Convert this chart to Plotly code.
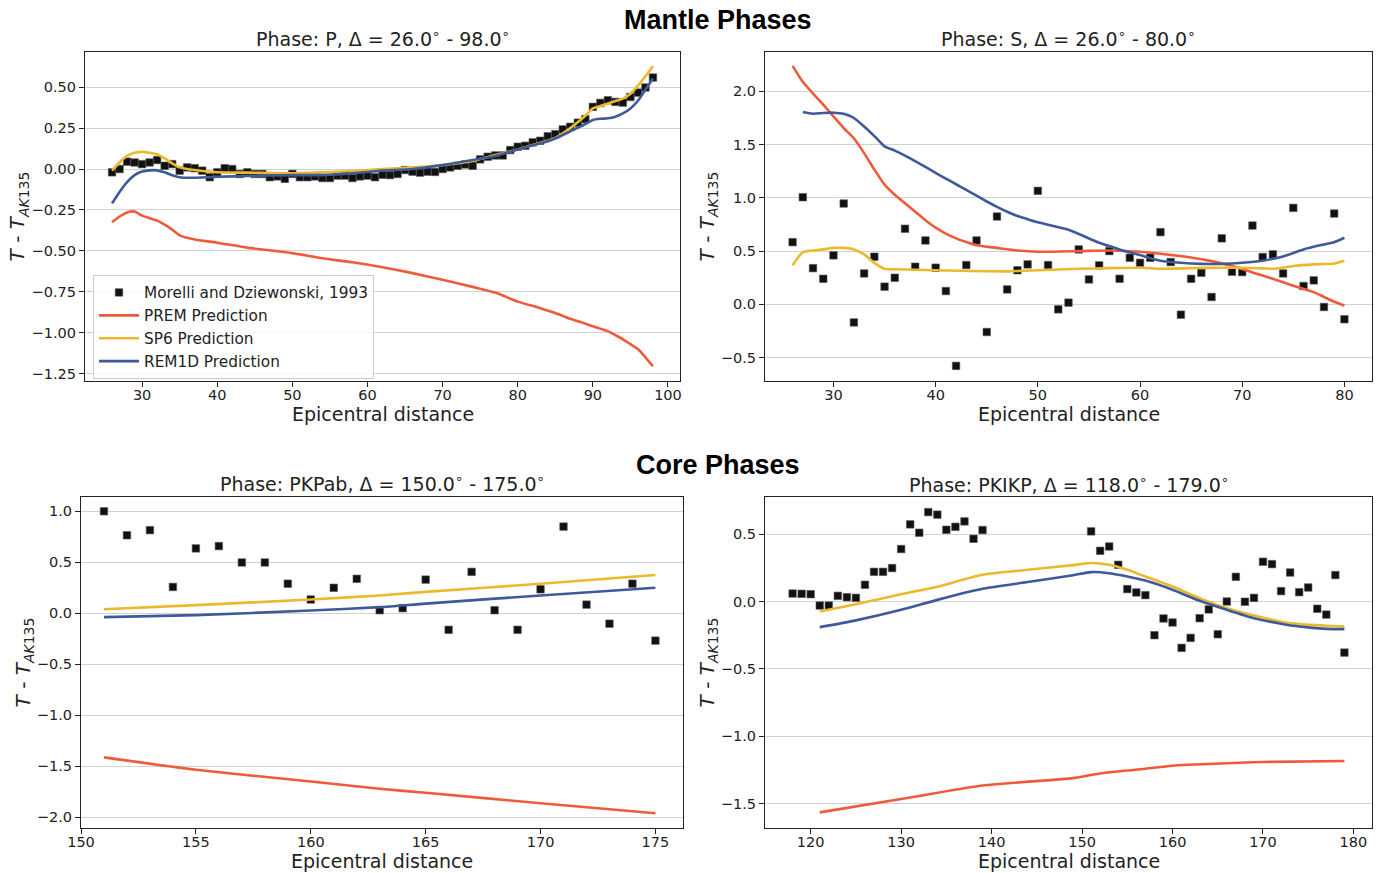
import plotly.graph_objects as go

# ---------------- data ----------------
# P phase
P_dist = list(range(26, 99))
P_obs = [-0.02, 0.00, 0.045, 0.04, 0.03, 0.04, 0.055, 0.02, 0.03, -0.01,
         0.01, 0.005, -0.01, -0.05, -0.02, 0.005, 0.0, -0.03, -0.02, -0.03,
         -0.03, -0.05, -0.045, -0.06, -0.03, -0.05, -0.05, -0.045, -0.055, -0.055,
         -0.04, -0.04, -0.055, -0.045, -0.04, -0.05, -0.035, -0.037, -0.03, -0.006,
         -0.016, -0.022, -0.016, -0.018, 0.0, 0.01, 0.02, 0.028, 0.02, 0.059,
         0.075, 0.083, 0.083, 0.116, 0.136, 0.142, 0.163, 0.173, 0.20, 0.213,
         0.242, 0.258, 0.283, 0.305, 0.38, 0.404, 0.42, 0.41, 0.406, 0.44,
         0.467, 0.498, 0.559]
P_model_x = [26, 27, 28, 29, 30, 31, 32, 33, 34, 35, 36, 37, 40, 44, 50, 54, 58, 62,
             66, 70, 74, 77, 80, 83, 85, 87, 89, 90, 91, 92, 93, 94, 95, 96, 97, 98]
P_prem = [-0.325, -0.29, -0.265, -0.26, -0.285, -0.30, -0.315, -0.34, -0.37, -0.405,
          -0.42, -0.43, -0.45, -0.48, -0.514, -0.545, -0.57, -0.60, -0.636, -0.677,
          -0.72, -0.755, -0.81, -0.85, -0.88, -0.915, -0.945, -0.96, -0.975, -0.99,
          -1.015, -1.04, -1.07, -1.10, -1.15, -1.205]
P_sp6 = [-0.01, 0.04, 0.08, 0.10, 0.105, 0.10, 0.09, 0.065, 0.035, 0.01,
         0.0, -0.006, -0.02, -0.022, -0.026, -0.02, -0.012, 0.0, 0.01, 0.024,
         0.049, 0.085, 0.12, 0.16, 0.19, 0.25, 0.325, 0.37, 0.385, 0.40,
         0.415, 0.43, 0.46, 0.51, 0.567, 0.628]
P_rem1d = [-0.21, -0.14, -0.08, -0.037, -0.015, -0.008, -0.008, -0.02, -0.038, -0.05,
           -0.053, -0.053, -0.047, -0.043, -0.037, -0.037, -0.026, -0.01, 0.0, 0.024,
           0.055, 0.08, 0.12, 0.157, 0.187, 0.23, 0.275, 0.30, 0.307, 0.31,
           0.32, 0.34, 0.37, 0.417, 0.486, 0.553]

# S phase
S_dist = list(range(26, 81))
S_obs = [0.584, 1.006, 0.34, 0.24, 0.46, 0.947, -0.17, 0.29, 0.447, 0.166,
         0.25, 0.71, 0.353, 0.6, 0.344, 0.125, -0.578, 0.369, 0.6, -0.26,
         0.825, 0.14, 0.32, 0.375, 1.066, 0.369, -0.047, 0.016, 0.516, 0.234,
         0.366, 0.5, 0.24, 0.4375, 0.39, 0.4375, 0.678, 0.397, -0.097, 0.24,
         0.297, 0.069, 0.62, 0.306, 0.303, 0.74, 0.444, 0.469, 0.29, 0.906,
         0.172, 0.225, -0.025, 0.853, -0.14]
S_prem_x = [26, 27, 28, 29, 30, 31, 32, 33, 34, 35, 36, 37, 38, 39, 40, 41, 42, 43,
            44, 46, 48, 50, 54, 57, 60, 62, 65, 67, 69, 71, 73, 75, 77, 78, 79, 80]
S_prem = [2.24, 2.09, 1.98, 1.875, 1.765, 1.656, 1.56, 1.42, 1.266, 1.125,
          1.03, 0.95, 0.87, 0.79, 0.72, 0.665, 0.62, 0.585, 0.555, 0.53,
          0.506, 0.494, 0.5, 0.506, 0.494, 0.475, 0.44, 0.406, 0.36, 0.30,
          0.24, 0.175, 0.115, 0.07, 0.025, -0.01]
S_sp6_x = [26, 27, 28, 29, 30, 31, 32, 33, 34, 35, 36, 40, 47, 50, 54, 57, 60, 62,
           65, 68, 70, 72, 73, 75, 77, 79, 80]
S_sp6 = [0.366, 0.49, 0.506, 0.516, 0.53, 0.53, 0.516, 0.47, 0.39, 0.334,
         0.33, 0.32, 0.31, 0.32, 0.334, 0.34, 0.344, 0.334, 0.34, 0.344,
         0.344, 0.3375, 0.334, 0.36, 0.375, 0.384, 0.41]
S_rem1d_x = [27, 28, 29, 30, 31, 32, 33, 34, 35, 36, 37, 38, 39, 40, 41, 42, 43, 44,
             45, 46, 47, 48, 49, 50, 53, 56, 58, 60, 62, 64, 66, 68, 70, 72, 74, 76,
             78, 79, 80]
S_rem1d = [1.806, 1.79, 1.797, 1.80, 1.79, 1.75, 1.67, 1.58, 1.484, 1.444,
           1.397, 1.344, 1.29, 1.234, 1.18, 1.128, 1.075, 1.02, 0.966, 0.916,
           0.87, 0.83, 0.80, 0.77, 0.70, 0.578, 0.516, 0.4625, 0.41, 0.39,
           0.38, 0.38, 0.39, 0.41, 0.45, 0.516, 0.5625, 0.584, 0.625]

# PKPab phase
PKPab_dist = list(range(151, 176))
PKPab_obs = [1.0, 0.765, 0.815, 0.258, 0.636, 0.659, 0.498, 0.498, 0.29, 0.135,
             0.25, 0.338, 0.03, 0.05, 0.33, -0.162, 0.406, 0.03, -0.162, 0.235,
             0.85, 0.085, -0.102, 0.29, -0.268]
PKPab_model_x = [151, 155, 160, 163, 165, 170, 175]
PKPab_prem = [-1.413, -1.534, -1.649, -1.72, -1.76, -1.862, -1.96]
PKPab_sp6 = [0.04, 0.08, 0.135, 0.175, 0.21, 0.29, 0.375]
PKPab_rem1d = [-0.038, -0.018, 0.027, 0.06, 0.095, 0.175, 0.25]

# PKIKP phase
PKIKP_dist = list(range(118, 140)) + list(range(151, 180))
PKIKP_obs = [0.059, 0.057, 0.054, -0.03, -0.03, 0.042, 0.032, 0.027, 0.124, 0.22,
             0.22, 0.248, 0.389, 0.572, 0.51, 0.663, 0.644, 0.532, 0.554, 0.594,
             0.465, 0.53,
             0.52, 0.376, 0.408, 0.272, 0.092, 0.067, 0.047, -0.25, -0.126, -0.156,
             -0.344, -0.27, -0.124, -0.059, -0.243, 0.0, 0.183, -0.002, 0.027, 0.295,
             0.277, 0.077, 0.215, 0.069, 0.104, -0.054, -0.097, 0.196, -0.379]
PKIKP_model_x = [121, 125, 130, 134, 139, 144, 149, 151, 153, 155, 157, 160, 163,
                 166, 169, 172, 174, 177, 179]
PKIKP_sp6 = [-0.074, -0.02, 0.054, 0.11, 0.198, 0.235, 0.27, 0.285, 0.272, 0.235,
             0.185, 0.111, 0.025, -0.05, -0.104, -0.15, -0.168, -0.18, -0.186]
PKIKP_rem1d = [-0.19, -0.14, -0.062, 0.012, 0.094, 0.144, 0.195, 0.218, 0.21, 0.186,
               0.155, 0.087, 0.005, -0.062, -0.124, -0.165, -0.186, -0.203, -0.205]
PKIKP_prem_x = [121, 130, 139, 149, 151, 153, 157, 160, 166, 170, 179]
PKIKP_prem = [-1.564, -1.465, -1.365, -1.31, -1.287, -1.267, -1.24, -1.218, -1.2,
              -1.19, -1.183]

titles = ["Phase: P, Δ = 26.0<sup>∘</sup> - 98.0<sup>∘</sup>",
          "Phase: S, Δ = 26.0<sup>∘</sup> - 80.0<sup>∘</sup>",
          "Phase: PKPab, Δ = 150.0<sup>∘</sup> - 175.0<sup>∘</sup>",
          "Phase: PKIKP, Δ = 118.0<sup>∘</sup> - 179.0<sup>∘</sup>"]
xlabel = "Epicentral distance"
ylabel = "<i>T</i> - <i>T</i><sub><i>AK</i>135</sub>"

names = ["Morelli and Dziewonski, 1993", "PREM Prediction", "SP6 Prediction",
         "REM1D Prediction"]
C_PREM = "#EF5B3A"
C_SP6 = "#EBB92B"
C_REM = "#3E5A9A"

# ---------------- figure ----------------
W, H = 1384, 873
fig = go.Figure()

panels = [
    dict(obs=(P_dist, P_obs), prem=(P_model_x, P_prem), sp6=(P_model_x, P_sp6),
         rem=(P_model_x, P_rem1d)),
    dict(obs=(S_dist, S_obs), prem=(S_prem_x, S_prem), sp6=(S_sp6_x, S_sp6),
         rem=(S_rem1d_x, S_rem1d)),
    dict(obs=(PKPab_dist, PKPab_obs), prem=(PKPab_model_x, PKPab_prem),
         sp6=(PKPab_model_x, PKPab_sp6), rem=(PKPab_model_x, PKPab_rem1d)),
    dict(obs=(PKIKP_dist, PKIKP_obs), prem=(PKIKP_prem_x, PKIKP_prem),
         sp6=(PKIKP_model_x, PKIKP_sp6), rem=(PKIKP_model_x, PKIKP_rem1d)),
]

for i, p in enumerate(panels):
    xa = "x" if i == 0 else f"x{i+1}"
    ya = "y" if i == 0 else f"y{i+1}"
    show = i == 0
    fig.add_trace(go.Scatter(x=p["obs"][0], y=p["obs"][1], mode="markers",
                             marker=dict(symbol="square", size=7.5, color="#111111",
                                         line=dict(width=0.6, color="#555555")),
                             name=names[0], showlegend=show, legendrank=1,
                             xaxis=xa, yaxis=ya))
    for key, col, nm, rk in [("prem", C_PREM, names[1], 2), ("sp6", C_SP6, names[2], 3),
                             ("rem", C_REM, names[3], 4)]:
        fig.add_trace(go.Scatter(x=p[key][0], y=p[key][1], mode="lines",
                                 line=dict(color=col, width=2.6, shape="spline",
                                           smoothing=0.6),
                                 name=nm, showlegend=show, legendrank=rk,
                                 xaxis=xa, yaxis=ya))

def px_x(a, b):
    return [a / W, b / W]

def px_y(top, bot):
    return [1 - bot / H, 1 - top / H]

domains = [
    (px_x(85, 680), px_y(52, 381)),
    (px_x(765, 1372), px_y(52, 381)),
    (px_x(81, 683), px_y(497, 828)),
    (px_x(765, 1372), px_y(497, 828)),
]
xranges = [[22.4, 101.6], [23.3, 82.7], [150.0, 176.2], [114.95, 182.05]]
yranges = [[-1.295, 0.715], [-0.72, 2.37], [-2.105, 1.14], [-1.68, 0.775]]
xticks = [list(range(30, 101, 10)), list(range(30, 81, 10)),
          list(range(150, 176, 5)), list(range(120, 181, 10))]
yticks = [[-1.25, -1.0, -0.75, -0.5, -0.25, 0.0, 0.25, 0.5],
          [-0.5, 0.0, 0.5, 1.0, 1.5, 2.0],
          [-2.0, -1.5, -1.0, -0.5, 0.0, 0.5, 1.0],
          [-1.5, -1.0, -0.5, 0.0, 0.5]]
yfmt = [".2f", ".1f", ".1f", ".1f"]

font_main = "DejaVu Sans"

for i in range(4):
    sx = "" if i == 0 else str(i + 1)
    axis_common = dict(showline=True, linecolor="#222222", linewidth=1.2, mirror=True,
                       ticks="outside", ticklen=5, tickcolor="#222222", tickwidth=1.2,
                       tickfont=dict(family=font_main, size=14.5, color="#222222"),
                       zeroline=False, automargin=False)
    fig.layout[f"xaxis{sx}"] = dict(
        domain=domains[i][0], range=xranges[i], tickvals=xticks[i], showgrid=False,
        anchor=f"y{sx}", ticklabelstandoff=-5,
        **axis_common)
    fig.layout[f"yaxis{sx}"] = dict(
        domain=domains[i][1], range=yranges[i], tickvals=yticks[i],
        tickformat=yfmt[i], showgrid=True, gridcolor="#d2d2d2", gridwidth=1,
        anchor=f"x{sx}",
        title=dict(text=ylabel, standoff=0,
                   font=dict(family=font_main, size=20, color="#222222")),
        **axis_common)

annotations = []
title_y = [38, 38, 483, 484]
xlab_y = [414, 414, 861, 861]
for i in range(4):
    dx = domains[i][0]
    cx = (dx[0] + dx[1]) / 2
    annotations.append(dict(text=titles[i], x=cx, y=1 - title_y[i] / H,
                            xref="paper", yref="paper", showarrow=False,
                            xanchor="center", yanchor="middle",
                            font=dict(family=font_main, size=19, color="#222222")))
    annotations.append(dict(text=xlabel, x=cx, y=1 - xlab_y[i] / H,
                            xref="paper", yref="paper", showarrow=False,
                            xanchor="center", yanchor="middle",
                            font=dict(family=font_main, size=19, color="#222222")))
annotations.append(dict(text="<b>Mantle Phases</b>", x=718 / W, y=1 - 20 / H,
                        xref="paper", yref="paper", showarrow=False,
                        xanchor="center", yanchor="middle",
                        font=dict(family="Liberation Sans", size=27, color="#000000")))
annotations.append(dict(text="<b>Core Phases</b>", x=718 / W, y=1 - 465 / H,
                        xref="paper", yref="paper", showarrow=False,
                        xanchor="center", yanchor="middle",
                        font=dict(family="Liberation Sans", size=27, color="#000000")))

fig.update_layout(
    width=W, height=H, margin=dict(l=0, r=0, t=0, b=0),
    paper_bgcolor="white", plot_bgcolor="white",
    annotations=annotations,
    legend=dict(x=93 / W, y=1 - 275 / H, xanchor="left", yanchor="top",
                bgcolor="rgba(255,255,255,0.85)", bordercolor="#cccccc", borderwidth=1,
                font=dict(family=font_main, size=15.3, color="#222222"),
                tracegroupgap=0, itemwidth=40),
    showlegend=True,
)

fig.write_html("out.html")
